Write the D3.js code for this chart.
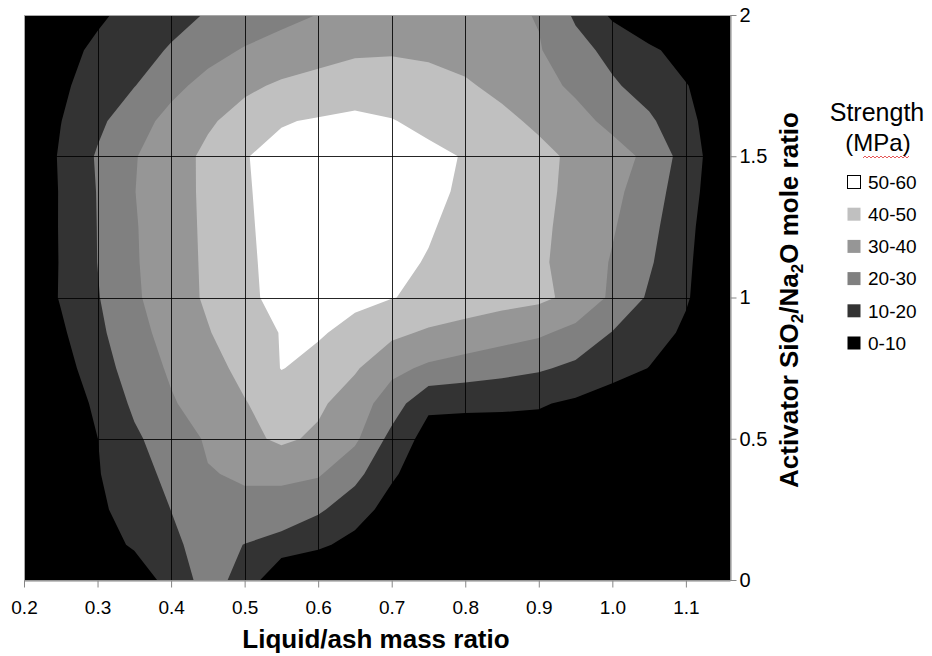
<!DOCTYPE html>
<html>
<head>
<meta charset="utf-8">
<script src="https://cdn.jsdelivr.net/npm/d3@7"></script>
<style>
body { margin: 0; background: #fff; }
text { font-family: Arial, "Liberation Sans", sans-serif; }
</style>
</head>
<body>
<div class="chart"></div>
<script>
// grid of measured strength (MPa), rows from SiO2/Na2O = 2 down to 0
const liquidAsh = [0.2, 0.25, 0.3, 0.35, 0.4, 0.45, 0.5, 0.55, 0.6, 0.65, 0.7, 0.75, 0.8, 0.85, 0.9, 0.95, 1.0, 1.05, 1.1, 1.15, 1.2];
const activatorRatio = [2, 1.875, 1.75, 1.625, 1.5, 1.375, 1.25, 1.125, 1, 0.875, 0.75, 0.625, 0.5, 0.375, 0.25, 0.125, 0];
const strength = [
    [1, 4.5, 8.6, 12.7, 16.8, 20.7, 23.9, 27.1, 30.2, 32.4, 34.7, 37, 34.7, 32.3, 29.4, 18.5, 8.5, 2, 1, 0, 0],
    [2.6, 7.1, 11.7, 16.2, 20.9, 26.5, 30.8, 34, 36.5, 38.5, 39, 38.5, 37, 33.5, 30.7, 23.6, 17, 11.7, 6.4, 1, 0],
    [2.8, 8.4, 14.1, 19.7, 27.3, 33.2, 38.2, 41.3, 43.2, 45.2, 44.9, 42.9, 41, 37.9, 33.3, 28.2, 21.4, 15.8, 10.4, 5.1, 0],
    [1.9, 9.8, 17.8, 26, 33, 38.7, 43.6, 49.4, 50.8, 52, 50.4, 47.8, 44.9, 42, 38.4, 33.1, 27.5, 21.6, 13.1, 3.6, 0],
    [0.8, 11.1, 21, 29.4, 35.7, 42.1, 49.6, 52.5, 54.8, 57, 54.3, 52, 49.5, 45.9, 42.3, 38.3, 33.8, 27.9, 15.7, 3.4, 0],
    [1, 10.7, 20.4, 29.8, 35.8, 42, 49.4, 52.2, 54.1, 56, 53.6, 51.5, 49, 45.6, 42.1, 37.9, 32.5, 24.9, 14.4, 2.9, 0],
    [1.3, 10.7, 20.2, 29.3, 35.6, 41.8, 49.2, 52, 53.5, 55, 52.6, 50.6, 47.9, 44.8, 41.7, 37.2, 30.9, 22.9, 12.9, 2.1, 0],
    [1.2, 10.6, 20.1, 29.1, 35.4, 41.6, 49, 51.8, 53, 53.3, 51.5, 49.6, 46.9, 44.1, 41.4, 36.5, 29.2, 21.2, 11.8, 2.2, 0],
    [1.9, 10.7, 19.4, 28.6, 35.2, 41.4, 48.9, 51.5, 52.5, 51.9, 50.3, 48.1, 45.8, 43.6, 42, 37.5, 28.2, 18.7, 10.9, 3, 0],
    [0, 8.4, 17.8, 26.7, 33.6, 39.4, 45.5, 50.4, 50.9, 47.5, 42.2, 38.6, 36.2, 33.9, 31.5, 27.1, 19.6, 14, 8.5, 2, 0],
    [0, 5.6, 15.6, 24.3, 31.4, 36.7, 42.5, 50.3, 47.2, 41.1, 32.5, 28.3, 25.9, 23.5, 21.2, 17.9, 13.8, 9.8, 5, 1, 0],
    [0, 2.4, 12.3, 21.7, 29, 34.6, 39.5, 44.5, 41.8, 34.9, 25.1, 12, 11.5, 11.3, 10.8, 8.5, 5, 2, 0, 0, 0],
    [0, 1.4, 9.9, 18.4, 25, 31.1, 37.2, 41.9, 38.2, 31.8, 17, 6, 6, 6, 6, 4, 2, 0, 0, 0, 0],
    [0, 2.9, 9.4, 15.9, 22.6, 29.5, 31, 31.5, 31, 22.9, 11.4, 4, 3, 3, 3, 2, 1, 0, 0, 0, 0],
    [0, 2.3, 8.2, 14, 20.1, 27, 28, 27, 21.5, 14.4, 6.2, 2, 1, 1, 1, 0, 0, 0, 0, 0, 0],
    [0, 0, 4.8, 11.5, 18.2, 23.5, 19.8, 15.7, 11.7, 7, 3, 1, 0, 0, 0, 0, 0, 0, 0, 0, 0],
    [0, 0, 1, 2.7, 14.5, 23.5, 17, 0.5, 0, 0, 0, 0, 0, 0, 0, 0, 0, 0, 0, 0, 0]
];
const thresholds = [10, 20, 30, 40, 50];
const bandLabels = ["50-60", "40-50", "30-40", "20-30", "10-20", "0-10"];
const bandFloors = [50, 40, 30, 20, 10, 0];
const xTicks = [0.2, 0.3, 0.4, 0.5, 0.6, 0.7, 0.8, 0.9, 1.0, 1.1];
const yTicks = [0, 0.5, 1, 1.5, 2];

var width = 932, height = 656;
var plot = {left: 24, top: 15, right: 730, bottom: 580};

var svg = d3.select(".chart")
    .append("svg")
    .attr("width", width)
    .attr("height", height);

var x = d3.scaleLinear().domain([0.2, 1.16]).range([plot.left, plot.right]);
var y = d3.scaleLinear().domain([0, 2]).range([plot.bottom, plot.top]);

var color = d3.scaleThreshold()
    .domain(thresholds)
    .range(["#000000", "#333333", "#808080", "#969696", "#c0c0c0", "#ffffff"]);

svg.append("clipPath").attr("id", "plotclip")
    .append("rect")
    .attr("x", plot.left).attr("y", plot.top)
    .attr("width", plot.right - plot.left).attr("height", plot.bottom - plot.top);

var area = svg.append("g").attr("clip-path", "url(#plotclip)");

area.append("rect")
    .attr("x", plot.left).attr("y", plot.top)
    .attr("width", plot.right - plot.left).attr("height", plot.bottom - plot.top)
    .attr("fill", color(0));

// contour grid coords -> data values -> pixels
var dx = liquidAsh[1] - liquidAsh[0], dy = activatorRatio[1] - activatorRatio[0];
var gridProj = d3.geoTransform({
    point: function(gx, gy) {
        this.stream.point(x(liquidAsh[0] + (gx - 0.5) * dx), y(activatorRatio[0] + (gy - 0.5) * dy));
    }
});

var contours = d3.contours()
    .size([liquidAsh.length, activatorRatio.length])
    .thresholds(thresholds)(strength.flat());

area.selectAll("path.band")
    .data(contours)
    .enter()
    .append("path")
    .attr("class", "band")
    .attr("d", d3.geoPath(gridProj))
    .attr("fill", d => color(d.value))
    .attr("stroke", "none");

// grid lines
area.selectAll("line.vgrid")
    .data(xTicks.slice(1))
    .enter().append("line")
    .attr("x1", d => Math.round(x(d)) + 0.5).attr("x2", d => Math.round(x(d)) + 0.5)
    .attr("y1", plot.top).attr("y2", plot.bottom)
    .attr("stroke", "#000").attr("stroke-opacity", 0.85);

area.selectAll("line.hgrid")
    .data(yTicks.slice(1, -1))
    .enter().append("line")
    .attr("y1", d => Math.round(y(d)) + 0.5).attr("y2", d => Math.round(y(d)) + 0.5)
    .attr("x1", plot.left).attr("x2", plot.right)
    .attr("stroke", "#000").attr("stroke-opacity", 0.85);

svg.append("rect")
    .attr("x", plot.left + 0.5).attr("y", plot.top + 0.5)
    .attr("width", plot.right - plot.left).attr("height", plot.bottom - plot.top)
    .attr("fill", "none").attr("stroke", "#a8a8a8");

// axes
var xAxis = svg.append("g")
    .attr("transform", "translate(0," + (plot.bottom + 0.5) + ")")
    .call(d3.axisBottom(x).tickValues(xTicks).tickFormat(d3.format(".1f"))
        .tickSize(7).tickSizeOuter(0).tickPadding(13));

var yAxis = svg.append("g")
    .attr("transform", "translate(" + (plot.right + 0.5) + ",0)")
    .call(d3.axisRight(y).tickValues(yTicks).tickFormat(d => String(d))
        .tickSize(6).tickSizeOuter(0).tickPadding(3));

[xAxis, yAxis].forEach(function(g) {
    g.attr("font-family", "Arial, 'Liberation Sans', sans-serif");
    g.selectAll("path, line").attr("stroke", "#868686");
    g.selectAll("text").attr("fill", "#000");
});
xAxis.attr("font-size", 19);
yAxis.attr("font-size", 20);

svg.append("text")
    .attr("x", 376).attr("y", 648)
    .attr("text-anchor", "middle")
    .attr("font-size", 26).attr("font-weight", "bold")
    .text("Liquid/ash mass ratio");

var yTitle = svg.append("text")
    .attr("transform", "translate(798,300) rotate(-90)")
    .attr("text-anchor", "middle")
    .attr("font-size", 26).attr("font-weight", "bold");
yTitle.append("tspan").text("Activator SiO");
yTitle.append("tspan").attr("font-size", 17).attr("dy", 5).text("2");
yTitle.append("tspan").attr("dy", -5).text("/Na");
yTitle.append("tspan").attr("font-size", 17).attr("dy", 5).text("2");
yTitle.append("tspan").attr("dy", -5).text("O mole ratio");

// legend
var legend = svg.append("g");
legend.append("text")
    .attr("x", 877).attr("y", 121)
    .attr("text-anchor", "middle").attr("font-size", 25)
    .text("Strength");
legend.append("text")
    .attr("x", 878).attr("y", 151)
    .attr("text-anchor", "middle").attr("font-size", 24)
    .text("(MPa)");

var squiggle = d3.range(0, 24).map(i => [863 + i * 2, 157 + (i % 2 ? -1 : 1)]);
legend.append("path")
    .attr("d", d3.line()(squiggle))
    .attr("fill", "none").attr("stroke", "#e03030").attr("stroke-width", 0.8);

var item = legend.selectAll("g.item")
    .data(bandLabels)
    .enter().append("g")
    .attr("class", "item")
    .attr("transform", (d, i) => "translate(847," + (182 + i * 32.2) + ")");

item.append("rect")
    .attr("x", 0.5).attr("y", -6.5)
    .attr("width", 13).attr("height", 13)
    .attr("fill", (d, i) => color(bandFloors[i]))
    .attr("stroke", (d, i) => i === 0 ? "#000" : "none");

item.append("text")
    .attr("x", 21).attr("dy", "0.36em")
    .attr("font-size", 19)
    .text(d => d);
</script>
</body>
</html>
